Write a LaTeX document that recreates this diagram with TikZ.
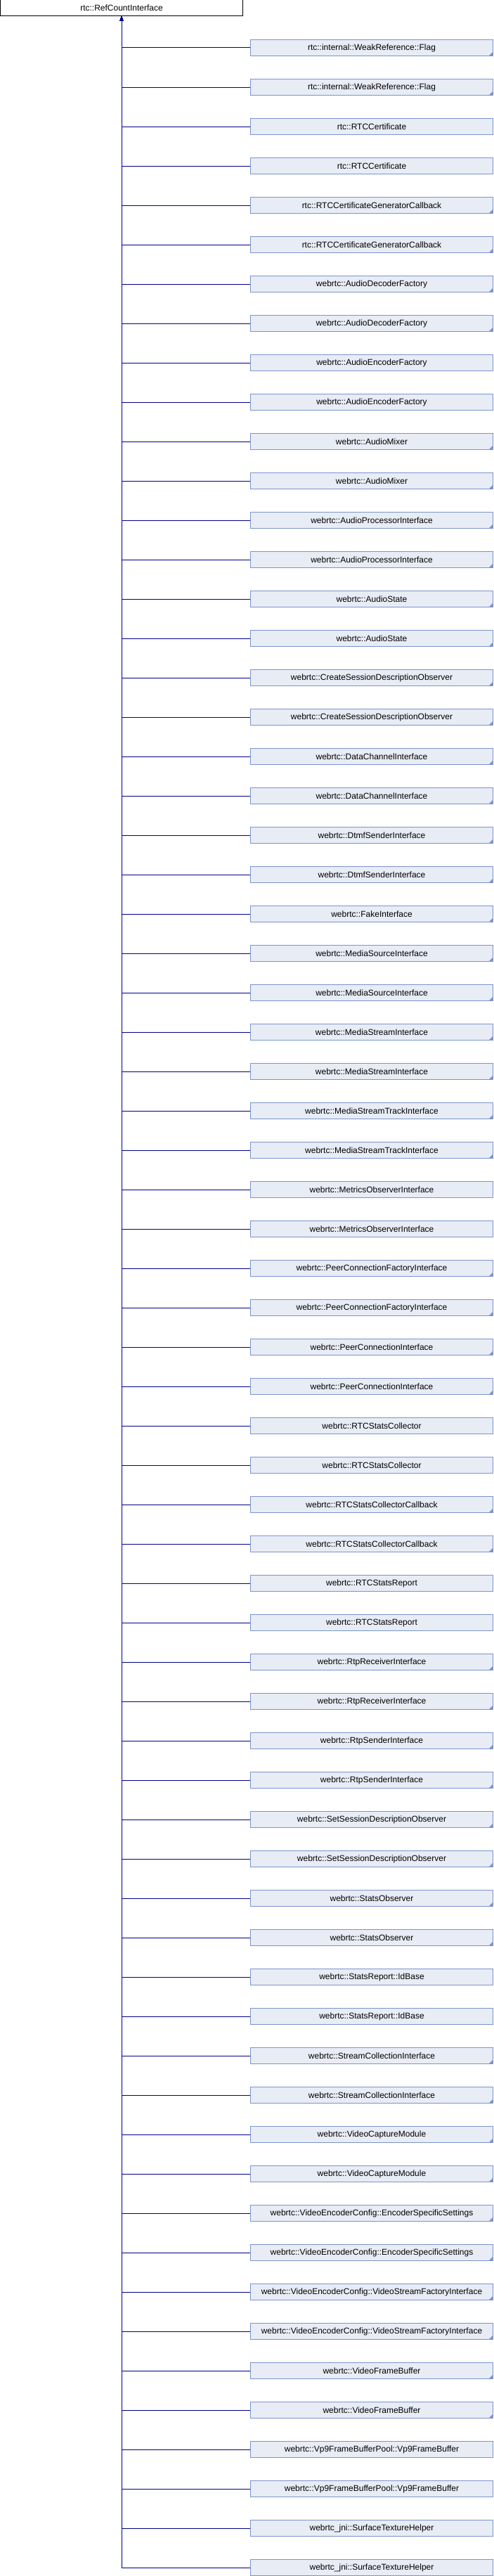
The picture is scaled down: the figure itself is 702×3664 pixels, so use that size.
\documentclass[tikz,border=0pt]{standalone}
\usepackage{fontspec}
\setmainfont{Liberation Sans}
\usetikzlibrary{arrows.meta}
\definecolor{boxfill}{RGB}{232,236,245}
\definecolor{boxline}{RGB}{124,148,204}
\definecolor{linkblue}{RGB}{0,0,139}

\begin{document}
\begin{tikzpicture}[x=1pt, y=-1pt,
  basenode/.style={rectangle, draw=black, fill=white, line width=1pt, minimum width=345pt, minimum height=23pt, inner sep=0pt, font=\fontsize{12}{14}\selectfont},
  classnode/.style={basenode, draw=boxline, fill=boxfill},
  morenode/.style={classnode, path picture={\fill[boxline] (path picture bounding box.south east) -- ++(-6pt,0pt) -- ++(6pt,6pt) -- cycle;}},
  inherit/.style={draw=linkblue, line width=1pt, -{Triangle[width=5pt,length=6pt]}}]
\useasboundingbox (0,0) rectangle (702,3664);
\node[basenode] (root) at (173,11.5) {rtc::RefCountInterface};
\node[morenode] (c1) at (529,68) {rtc::internal::WeakReference::Flag};
\node[morenode] (c2) at (529,124) {rtc::internal::WeakReference::Flag};
\node[classnode] (c3) at (529,180) {rtc::RTCCertificate};
\node[classnode] (c4) at (529,236) {rtc::RTCCertificate};
\node[morenode] (c5) at (529,292) {rtc::RTCCertificateGeneratorCallback};
\node[morenode] (c6) at (529,348) {rtc::RTCCertificateGeneratorCallback};
\node[morenode] (c7) at (529,404) {webrtc::AudioDecoderFactory};
\node[morenode] (c8) at (529,460) {webrtc::AudioDecoderFactory};
\node[classnode] (c9) at (529,516) {webrtc::AudioEncoderFactory};
\node[classnode] (c10) at (529,572) {webrtc::AudioEncoderFactory};
\node[morenode] (c11) at (529,628) {webrtc::AudioMixer};
\node[morenode] (c12) at (529,684) {webrtc::AudioMixer};
\node[morenode] (c13) at (529,740) {webrtc::AudioProcessorInterface};
\node[morenode] (c14) at (529,796) {webrtc::AudioProcessorInterface};
\node[morenode] (c15) at (529,852) {webrtc::AudioState};
\node[morenode] (c16) at (529,908) {webrtc::AudioState};
\node[morenode] (c17) at (529,964) {webrtc::CreateSessionDescriptionObserver};
\node[morenode] (c18) at (529,1020) {webrtc::CreateSessionDescriptionObserver};
\node[morenode] (c19) at (529,1076) {webrtc::DataChannelInterface};
\node[morenode] (c20) at (529,1132) {webrtc::DataChannelInterface};
\node[morenode] (c21) at (529,1188) {webrtc::DtmfSenderInterface};
\node[morenode] (c22) at (529,1244) {webrtc::DtmfSenderInterface};
\node[morenode] (c23) at (529,1300) {webrtc::FakeInterface};
\node[morenode] (c24) at (529,1356) {webrtc::MediaSourceInterface};
\node[morenode] (c25) at (529,1412) {webrtc::MediaSourceInterface};
\node[morenode] (c26) at (529,1468) {webrtc::MediaStreamInterface};
\node[morenode] (c27) at (529,1524) {webrtc::MediaStreamInterface};
\node[morenode] (c28) at (529,1580) {webrtc::MediaStreamTrackInterface};
\node[morenode] (c29) at (529,1636) {webrtc::MediaStreamTrackInterface};
\node[classnode] (c30) at (529,1692) {webrtc::MetricsObserverInterface};
\node[classnode] (c31) at (529,1748) {webrtc::MetricsObserverInterface};
\node[morenode] (c32) at (529,1804) {webrtc::PeerConnectionFactoryInterface};
\node[morenode] (c33) at (529,1860) {webrtc::PeerConnectionFactoryInterface};
\node[morenode] (c34) at (529,1916) {webrtc::PeerConnectionInterface};
\node[morenode] (c35) at (529,1972) {webrtc::PeerConnectionInterface};
\node[classnode] (c36) at (529,2028) {webrtc::RTCStatsCollector};
\node[classnode] (c37) at (529,2084) {webrtc::RTCStatsCollector};
\node[morenode] (c38) at (529,2140) {webrtc::RTCStatsCollectorCallback};
\node[morenode] (c39) at (529,2196) {webrtc::RTCStatsCollectorCallback};
\node[classnode] (c40) at (529,2252) {webrtc::RTCStatsReport};
\node[classnode] (c41) at (529,2308) {webrtc::RTCStatsReport};
\node[morenode] (c42) at (529,2364) {webrtc::RtpReceiverInterface};
\node[morenode] (c43) at (529,2420) {webrtc::RtpReceiverInterface};
\node[morenode] (c44) at (529,2476) {webrtc::RtpSenderInterface};
\node[morenode] (c45) at (529,2532) {webrtc::RtpSenderInterface};
\node[morenode] (c46) at (529,2588) {webrtc::SetSessionDescriptionObserver};
\node[morenode] (c47) at (529,2644) {webrtc::SetSessionDescriptionObserver};
\node[morenode] (c48) at (529,2700) {webrtc::StatsObserver};
\node[morenode] (c49) at (529,2756) {webrtc::StatsObserver};
\node[classnode] (c50) at (529,2812) {webrtc::StatsReport::IdBase};
\node[classnode] (c51) at (529,2868) {webrtc::StatsReport::IdBase};
\node[morenode] (c52) at (529,2924) {webrtc::StreamCollectionInterface};
\node[morenode] (c53) at (529,2980) {webrtc::StreamCollectionInterface};
\node[morenode] (c54) at (529,3036) {webrtc::VideoCaptureModule};
\node[morenode] (c55) at (529,3092) {webrtc::VideoCaptureModule};
\node[morenode] (c56) at (529,3148) {webrtc::VideoEncoderConfig::EncoderSpecificSettings};
\node[morenode] (c57) at (529,3204) {webrtc::VideoEncoderConfig::EncoderSpecificSettings};
\node[morenode] (c58) at (529,3260) {webrtc::VideoEncoderConfig::VideoStreamFactoryInterface};
\node[morenode] (c59) at (529,3316) {webrtc::VideoEncoderConfig::VideoStreamFactoryInterface};
\node[morenode] (c60) at (529,3372) {webrtc::VideoFrameBuffer};
\node[morenode] (c61) at (529,3428) {webrtc::VideoFrameBuffer};
\node[classnode] (c62) at (529,3484) {webrtc::Vp9FrameBufferPool::Vp9FrameBuffer};
\node[classnode] (c63) at (529,3540) {webrtc::Vp9FrameBufferPool::Vp9FrameBuffer};
\node[classnode] (c64) at (529,3596) {webrtc\_jni::SurfaceTextureHelper};
\node[classnode] (c65) at (529,3652) {webrtc\_jni::SurfaceTextureHelper};
\draw[inherit] (c1) -| (root);
\draw[inherit] (c2) -| (root);
\draw[inherit] (c3) -| (root);
\draw[inherit] (c4) -| (root);
\draw[inherit] (c5) -| (root);
\draw[inherit] (c6) -| (root);
\draw[inherit] (c7) -| (root);
\draw[inherit] (c8) -| (root);
\draw[inherit] (c9) -| (root);
\draw[inherit] (c10) -| (root);
\draw[inherit] (c11) -| (root);
\draw[inherit] (c12) -| (root);
\draw[inherit] (c13) -| (root);
\draw[inherit] (c14) -| (root);
\draw[inherit] (c15) -| (root);
\draw[inherit] (c16) -| (root);
\draw[inherit] (c17) -| (root);
\draw[inherit] (c18) -| (root);
\draw[inherit] (c19) -| (root);
\draw[inherit] (c20) -| (root);
\draw[inherit] (c21) -| (root);
\draw[inherit] (c22) -| (root);
\draw[inherit] (c23) -| (root);
\draw[inherit] (c24) -| (root);
\draw[inherit] (c25) -| (root);
\draw[inherit] (c26) -| (root);
\draw[inherit] (c27) -| (root);
\draw[inherit] (c28) -| (root);
\draw[inherit] (c29) -| (root);
\draw[inherit] (c30) -| (root);
\draw[inherit] (c31) -| (root);
\draw[inherit] (c32) -| (root);
\draw[inherit] (c33) -| (root);
\draw[inherit] (c34) -| (root);
\draw[inherit] (c35) -| (root);
\draw[inherit] (c36) -| (root);
\draw[inherit] (c37) -| (root);
\draw[inherit] (c38) -| (root);
\draw[inherit] (c39) -| (root);
\draw[inherit] (c40) -| (root);
\draw[inherit] (c41) -| (root);
\draw[inherit] (c42) -| (root);
\draw[inherit] (c43) -| (root);
\draw[inherit] (c44) -| (root);
\draw[inherit] (c45) -| (root);
\draw[inherit] (c46) -| (root);
\draw[inherit] (c47) -| (root);
\draw[inherit] (c48) -| (root);
\draw[inherit] (c49) -| (root);
\draw[inherit] (c50) -| (root);
\draw[inherit] (c51) -| (root);
\draw[inherit] (c52) -| (root);
\draw[inherit] (c53) -| (root);
\draw[inherit] (c54) -| (root);
\draw[inherit] (c55) -| (root);
\draw[inherit] (c56) -| (root);
\draw[inherit] (c57) -| (root);
\draw[inherit] (c58) -| (root);
\draw[inherit] (c59) -| (root);
\draw[inherit] (c60) -| (root);
\draw[inherit] (c61) -| (root);
\draw[inherit] (c62) -| (root);
\draw[inherit] (c63) -| (root);
\draw[inherit] (c64) -| (root);
\draw[inherit] (c65) -| (root);
\end{tikzpicture}
\end{document}
